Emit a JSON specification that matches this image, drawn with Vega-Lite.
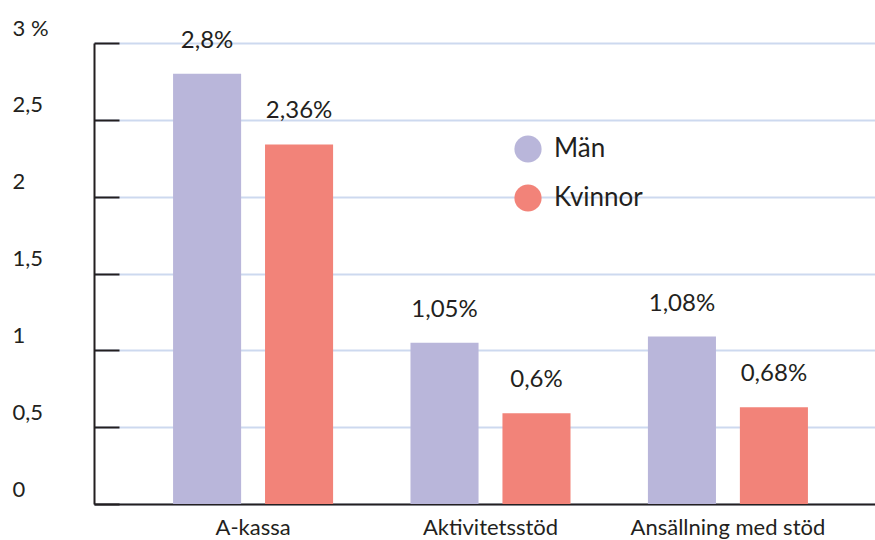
{
  "$schema": "https://vega.github.io/schema/vega-lite/v6.json",
  "width": 793,
  "height": 461,
  "autosize": {"type": "none"},
  "padding": {"left": 94, "top": 43, "right": 0, "bottom": 40},
  "background": "white",
  "config": {"font": "Lato", "view": {"stroke": null}},
  "data": {
    "values": [
      {"kategori": "A-kassa", "kon": "Män", "varde": 2.8, "etikett": "2,8%"},
      {"kategori": "A-kassa", "kon": "Kvinnor", "varde": 2.34, "etikett": "2,36%"},
      {"kategori": "Aktivitetsstöd", "kon": "Män", "varde": 1.05, "etikett": "1,05%"},
      {"kategori": "Aktivitetsstöd", "kon": "Kvinnor", "varde": 0.59, "etikett": "0,6%"},
      {"kategori": "Ansällning med stöd", "kon": "Män", "varde": 1.09, "etikett": "1,08%"},
      {"kategori": "Ansällning med stöd", "kon": "Kvinnor", "varde": 0.63, "etikett": "0,68%"}
    ]
  },
  "encoding": {
    "x": {
      "field": "kategori",
      "type": "nominal",
      "sort": ["A-kassa", "Aktivitetsstöd", "Ansällning med stöd"],
      "scale": {"paddingInner": 0.326, "paddingOuter": 0.333},
      "axis": {
        "title": null,
        "labelAngle": 0,
        "ticks": false,
        "domainColor": "#231f20",
        "domainWidth": 2,
        "labelFontSize": 22,
        "labelLimit": 0,
        "labelColor": "#231f20",
        "labelPadding": 13,
        "grid": false
      }
    },
    "xOffset": {
      "field": "kon",
      "type": "nominal",
      "sort": ["Män", "Kvinnor"],
      "scale": {"paddingInner": 0.26, "paddingOuter": 0}
    },
    "y": {
      "field": "varde",
      "type": "quantitative",
      "scale": {"domain": [0, 3], "nice": false},
      "axis": {
        "title": null,
        "values": [0, 0.5, 1, 1.5, 2, 2.5, 3],
        "labelExpr": "datum.value == 3 ? '3 %' : replace(format(datum.value, '~g'), '.', ',')",
        "domainColor": "#231f20",
        "domainWidth": 2,
        "ticks": true,
        "tickSize": -25,
        "tickColor": "#231f20",
        "tickWidth": 2,
        "grid": true,
        "gridColor": "#cdd9ef",
        "gridWidth": 2,
        "labelAlign": "left",
        "labelBaseline": "alphabetic",
        "labelPadding": 107,
        "labelOffset": -8,
        "labelFontSize": 22,
        "labelColor": "#231f20"
      }
    }
  },
  "layer": [
    {
      "mark": {"type": "bar"},
      "encoding": {
        "color": {
          "field": "kon",
          "type": "nominal",
          "scale": {"domain": ["Män", "Kvinnor"], "range": ["#b9b6da", "#f28379"]},
          "legend": {
            "title": null,
            "orient": "none",
            "legendX": 420,
            "legendY": 92,
            "symbolType": "circle",
            "symbolSize": 740,
            "symbolStrokeWidth": 0,
            "symbolOpacity": 1,
            "labelFontSize": 26,
            "labelColor": "#231f20",
            "labelOffset": 12,
            "rowPadding": 21,
            "padding": 0
          }
        }
      }
    },
    {
      "mark": {"type": "text", "dy": -26, "baseline": "alphabetic", "fontSize": 24, "color": "#231f20"},
      "encoding": {"text": {"field": "etikett"}}
    }
  ]
}
